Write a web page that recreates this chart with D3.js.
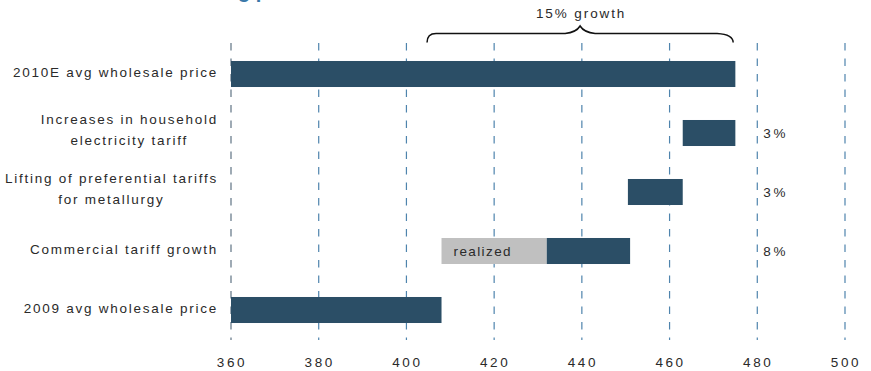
<!DOCTYPE html>
<html>
<head>
<meta charset="utf-8">
<script src="https://cdn.jsdelivr.net/npm/d3@7"></script>
<style>
  html, body { margin: 0; padding: 0; background: #ffffff; }
  svg { display: block; }
  text { font-family: "Liberation Sans", Arial, sans-serif; fill: #2a2a2a; }
</style>
</head>
<body>
<svg id="chart" width="871" height="371"></svg>
<script>
// Rows, top to bottom (multi-line labels as arrays of lines)
const categories = [
  ["2010E avg wholesale price"],
  ["Increases in household", "electricity tariff"],
  ["Lifting of preferential tariffs", "for metallurgy"],
  ["Commercial tariff growth"],
  ["2009 avg wholesale price"]
];
// Bar spans on the price scale
const barStart = [360, 463, 450.5, 432, 360];
const barEnd   = [475, 475, 463, 451, 408];
// Already realized part of the commercial tariff growth
const realizedRow = 3;
const realizedStart = 408;
const realizedEnd = 432;
const realizedLabel = "realized";
// Growth contributions shown to the right
const pctLabels = ["", "3%", "3%", "8%", ""];
// Axis ticks
const xTicks = [360, 380, 400, 420, 440, 460, 480, 500];
// Overall growth bracket
const braceSpan = [404.7, 474.5];
const braceLabel = "15% growth";
const titleText = "Drivers of the wholesale market's strong price rise";

const svg = d3.select("#chart");

const x = d3.scaleLinear().domain([360, 500]).range([231, 845]);
const y = d3.scaleBand()
  .domain(d3.range(categories.length))
  .range([44.5, 339.5])
  .paddingInner(0.559)
  .paddingOuter(0.2795);

const barColor = "#2b4e66";
const realizedColor = "#c0c0c0";

// Title (runs off the top edge of the frame)
const title = svg.append("text")
  .attr("y", -2)
  .style("font-weight", "bold")
  .style("font-size", "20px")
  .style("fill", "#3a78a8")
  .text(titleText);
{
  const gi = titleText.indexOf("strong") + 5;
  const gx = title.node().getStartPositionOfChar(gi).x;
  title.attr("x", 238 - gx);
}

// Dashed vertical gridlines
svg.append("g").selectAll("line")
  .data(xTicks)
  .join("line")
  .attr("x1", d => x(d)).attr("x2", d => x(d))
  .attr("y1", 43).attr("y2", 340)
  .attr("stroke", d => d === 360 ? "#5f7384" : "#4f84ad")
  .attr("stroke-width", 1.2)
  .attr("stroke-dasharray", "7.5,8");

// Tick labels
svg.append("g").selectAll("text")
  .data(xTicks)
  .join("text")
  .attr("x", d => x(d) + 1)
  .attr("y", 367)
  .attr("text-anchor", "middle")
  .style("font-size", "13.5px")
  .style("letter-spacing", "2.6px")
  .text(d => d);

// Realized portion
svg.append("rect")
  .attr("x", x(realizedStart))
  .attr("y", y(realizedRow))
  .attr("width", x(realizedEnd) - x(realizedStart))
  .attr("height", y.bandwidth())
  .attr("fill", realizedColor);

svg.append("text")
  .attr("x", x(realizedStart) + 12)
  .attr("y", y(realizedRow) + y.bandwidth() / 2 + 5)
  .style("font-size", "13.5px")
  .style("letter-spacing", "1.4px")
  .text(realizedLabel);

// Bars
svg.append("g").selectAll("rect")
  .data(d3.range(categories.length))
  .join("rect")
  .attr("x", i => x(barStart[i]))
  .attr("y", i => y(i))
  .attr("width", i => x(barEnd[i]) - x(barStart[i]))
  .attr("height", y.bandwidth())
  .attr("fill", barColor);

// Category labels: right-aligned block, lines centred within it
const labelRight = 218;
categories.forEach((lines, i) => {
  const cy = y(i) + y.bandwidth() / 2;
  const g = svg.append("g");
  const baselines = lines.length === 1 ? [cy + 3] : [cy - 9, cy + 11.5];
  const texts = lines.map((ln, k) => g.append("text")
    .attr("y", baselines[k])
    .style("font-size", "13.5px")
    .style("letter-spacing", "1.75px")
    .attr("text-anchor", "middle")
    .text(ln));
  const widths = texts.map(t => t.node().getComputedTextLength());
  const maxW = d3.max(widths);
  texts.forEach(t => t.attr("x", labelRight - maxW / 2));
});

// Percentage labels
svg.append("g").selectAll("text")
  .data(d3.range(categories.length).filter(i => pctLabels[i]))
  .join("text")
  .attr("x", x(480) + 6)
  .attr("y", i => y(i) + y.bandwidth() / 2 + 5)
  .style("font-size", "13.5px")
  .style("letter-spacing", "2.6px")
  .text(i => pctLabels[i]);

// Growth bracket
const bx0 = x(braceSpan[0]), bx1 = x(braceSpan[1]);
const bm = (bx0 + bx1) / 2;
const braceTop = 33.5, braceBottom = 42.5, bracePeak = 26;
const bracePath = d3.path();
bracePath.moveTo(bx0, braceBottom);
bracePath.quadraticCurveTo(bx0, braceTop, bx0 + 9, braceTop);
bracePath.lineTo(bm - 15, braceTop);
bracePath.quadraticCurveTo(bm - 4, braceTop - 1, bm, bracePeak);
bracePath.quadraticCurveTo(bm + 4, braceTop - 1, bm + 15, braceTop);
bracePath.lineTo(bx1 - 16, braceTop);
bracePath.quadraticCurveTo(bx1, braceTop + 1, bx1, braceBottom);
svg.append("path")
  .attr("d", bracePath.toString())
  .attr("fill", "none")
  .attr("stroke", "#111")
  .attr("stroke-width", 1.5);

svg.append("text")
  .attr("x", bm + 1)
  .attr("y", 18)
  .attr("text-anchor", "middle")
  .style("font-size", "13.5px")
  .style("letter-spacing", "1.9px")
  .text(braceLabel);
</script>
</body>
</html>
